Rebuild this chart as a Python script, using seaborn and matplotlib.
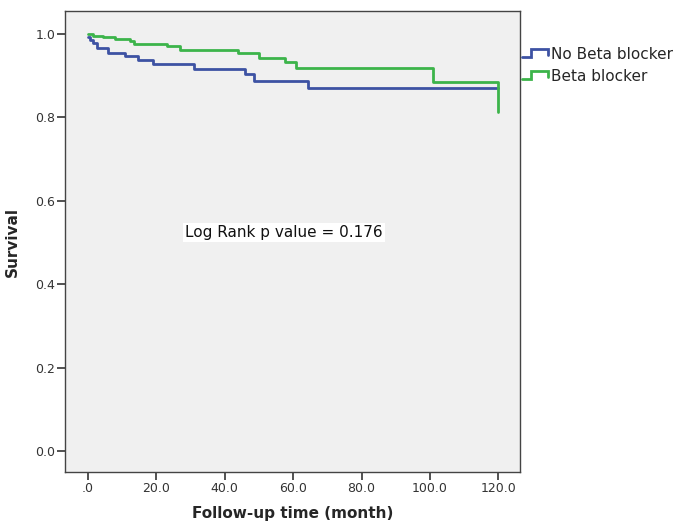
import pandas as pd
import matplotlib
matplotlib.use("Agg")
import matplotlib.pyplot as plt
from matplotlib.legend_handler import HandlerBase
from matplotlib.lines import Line2D
import seaborn as sns

# Kaplan-Meier steps (time in months, survival)
no_bb_time = [0, 0.6, 1.6, 2.7, 5.9, 10.8, 14.7, 18.9, 31.1, 46.0, 48.6, 64.2, 120.0]
no_bb_surv = [0.992, 0.986, 0.978, 0.966, 0.954, 0.946, 0.938, 0.928, 0.916, 0.904, 0.888, 0.870, 0.870]

bb_time = [0, 1.6, 4.5, 7.9, 12.3, 13.5, 23.0, 26.9, 44.0, 50.1, 57.6, 60.9, 101.0, 120.0]
bb_surv = [1.0, 0.996, 0.992, 0.988, 0.984, 0.975, 0.970, 0.962, 0.954, 0.942, 0.932, 0.918, 0.884, 0.814]

groups = ["No Beta blocker", "Beta blocker"]
colors = {"No Beta blocker": "#3d52a3", "Beta blocker": "#3cb44a"}

x_ticks = [0, 20, 40, 60, 80, 100, 120]
x_labels = [".0", "20.0", "40.0", "60.0", "80.0", "100.0", "120.0"]
y_ticks = [0.0, 0.2, 0.4, 0.6, 0.8, 1.0]
y_labels = ["0.0", "0.2", "0.4", "0.6", "0.8", "1.0"]

df = pd.concat([
    pd.DataFrame({"time": no_bb_time, "surv": no_bb_surv, "group": groups[0]}),
    pd.DataFrame({"time": bb_time, "surv": bb_surv, "group": groups[1]}),
], ignore_index=True)

sns.set_style("white")

fig = plt.figure(figsize=(6.91, 5.24), dpi=100)
ax = fig.add_axes([0.094, 0.099, 0.659, 0.88])
ax.set_facecolor("#f0f0f0")

sns.lineplot(data=df, x="time", y="surv", hue="group", palette=colors,
             estimator=None, sort=False, drawstyle="steps-post",
             linewidth=2.0, legend=False, ax=ax)

ax.set_xlim(-6.7, 126.4)
ax.set_ylim(-0.05, 1.055)
ax.set_xticks(x_ticks)
ax.set_xticklabels(x_labels)
ax.set_yticks(y_ticks)
ax.set_yticklabels(y_labels)
ax.tick_params(axis="both", direction="out", length=5.5, width=1.2,
               color="#333333", labelsize=9, labelcolor="#333333", pad=1.5,
               left=True, bottom=True)
for sp in ax.spines.values():
    sp.set_color("#444444")
    sp.set_linewidth(1.0)

ax.set_xlabel("Follow-up time (month)", fontsize=11, fontweight="bold", labelpad=8)
ax.set_ylabel("Survival", fontsize=11, fontweight="bold", labelpad=11)

ax.text(57.4, 0.525, "Log Rank p value = 0.176", fontsize=11, ha="center", va="center",
        color="#111111", bbox=dict(facecolor="white", edgecolor="none", pad=1.5))


class StepHandler(HandlerBase):
    def create_artists(self, legend, orig_handle, xdescent, ydescent,
                       width, height, fontsize, trans):
        w, h = width, height
        xs = [-xdescent, 0.35 * w, 0.35 * w, w, w]
        ys = [0.2 * h, 0.2 * h, 0.95 * h, 0.95 * h, 0.4 * h]
        line = Line2D(xs, ys, color=orig_handle.get_color(), linewidth=2.0,
                      solid_joinstyle="miter")
        line.set_transform(trans)
        return [line]


handles = [Line2D([], [], color=colors[g]) for g in groups]
fig.legend(handles, groups, loc="upper left", bbox_to_anchor=(0.755, 0.91),
           frameon=False, fontsize=11, handlelength=1.75, handletextpad=0.15,
           labelspacing=0.45, borderaxespad=0, borderpad=0,
           handler_map={Line2D: StepHandler()})

fig.savefig("out.png", dpi=100)
